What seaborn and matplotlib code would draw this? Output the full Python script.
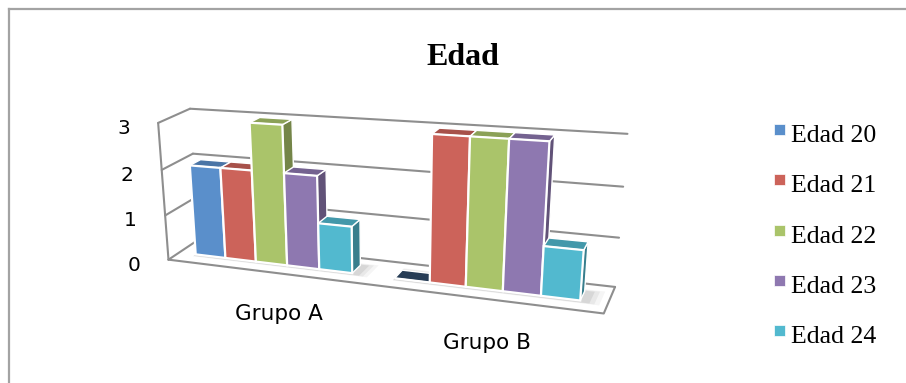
import numpy as np
import pandas as pd
import seaborn as sns
import matplotlib
matplotlib.use("Agg")
import matplotlib.pyplot as plt
from matplotlib import transforms as mtransforms
from matplotlib.patches import Polygon, Rectangle
from matplotlib.lines import Line2D

# ---- data -------------------------------------------------------------
grupos = ["Grupo A", "Grupo B"]
edades = ["Edad 20", "Edad 21", "Edad 22", "Edad 23", "Edad 24"]
grupo_a = [2, 2, 3, 2, 1]
grupo_b = [0, 3, 3, 3, 1]
y_ticks = [0, 1, 2, 3]
colores = ["#5A8FCB", "#CC635A", "#AAC46A", "#8E78B0", "#52B9CF"]

# ---- 3-D view ---------------------------------------------------------
# Perspective camera: (category x, value, depth, 1) -> (px, py from top)
CAM = np.array([
    [173.328, -5.97234, 14.2474, 271.409],
    [1.98772, -48.5026, -2.94631, 263.469],
    [-0.0814209, -0.0155137, 0.0176301, 1.0],
])
PROF = 1.0                     # bar depth
X_IZQ, X_DER = -0.49, 1.51     # left / right wall positions
Z_FRENTE, Z_FONDO = -1.0, 1.85  # floor front edge / back wall

W_PX, H_PX = 906, 383
fig = plt.figure(figsize=(W_PX / 100, H_PX / 100), dpi=100)
fig.patch.set_facecolor("white")
PIX = mtransforms.IdentityTransform()


class Vista(mtransforms.Transform):
    """Projects a plane of the 3-D box onto the figure in pixels.

    plano "xv": front-facing plane at depth `fijo`
    plano "xz": horizontal plane at value `fijo`
    plano "zv": side plane at category position `fijo`
    """
    input_dims = output_dims = 2
    is_separable = False
    has_inverse = False

    def __init__(self, plano, fijo):
        super().__init__()
        self.plano = plano
        self.fijo = fijo

    def transform_non_affine(self, values):
        v = np.asarray(values, dtype=float).reshape(-1, 2)
        a, b = v[:, 0], v[:, 1]
        c = np.full_like(a, self.fijo)
        if self.plano == "xv":
            X, Y, Z = a, b, c
        elif self.plano == "xz":
            X, Y, Z = a, c, b
        else:
            X, Y, Z = c, b, a
        h = np.column_stack([X, Y, Z, np.ones_like(X)]) @ CAM.T
        return np.column_stack([h[:, 0] / h[:, 2], H_PX - h[:, 1] / h[:, 2]])


df = pd.DataFrame({
    "grupo": np.repeat(grupos, len(edades)),
    "edad": edades * len(grupos),
    "valor": grupo_a + grupo_b,
})

ax = fig.add_axes([0, 0, 1, 1])
sns.barplot(data=df, x="grupo", y="valor", hue="edad", palette=colores,
            saturation=1, width=0.8, errorbar=None, legend=False, ax=ax)
ax.set_axis_off()

# ---- walls and floor --------------------------------------------------
gris = "#8E8E8E"
kw = dict(color=gris, lw=1.5, zorder=2, clip_on=False, solid_capstyle="round")
for v in y_ticks:
    ax.add_line(Line2D([X_IZQ, X_DER], [v, v], transform=Vista("xv", Z_FONDO), **kw))
    ax.add_line(Line2D([Z_FRENTE, Z_FONDO], [v, v], transform=Vista("zv", X_IZQ), **kw))
ax.add_line(Line2D([Z_FRENTE, Z_FRENTE], [0, max(y_ticks)],
                   transform=Vista("zv", X_IZQ), **kw))
ax.add_line(Line2D([X_IZQ, X_DER, X_DER], [Z_FRENTE, Z_FRENTE, Z_FONDO],
                   transform=Vista("xz", 0), **kw))

# ---- bars: front from seaborn, plus top and side faces ------------------
barras = sorted(ax.patches, key=lambda p: p.get_x())

# soft floor shadow under each cluster
for xc in range(len(grupos)):
    for k, a in enumerate([0.04, 0.05, 0.07]):
        e = 0.04 * (3 - k)
        sombra = Polygon([(xc - 0.4, -0.15 - e), (xc + 0.42 + e * 0.5, -0.15 - e),
                          (xc + 0.42 + e * 0.5, PROF + e * 2),
                          (xc - 0.4, PROF + e * 2)],
                         closed=True, transform=Vista("xz", 0), fc="black",
                         ec="none", alpha=a, zorder=3, clip_on=False)
        ax.add_patch(sombra)

for i, p in enumerate(barras):
    x0, w, hgt = p.get_x(), p.get_width(), p.get_height()
    x1 = x0 + w
    base = np.array(p.get_facecolor()[:3])
    z = 10 + 3 * i
    lado = Polygon([(0, 0), (PROF, 0), (PROF, hgt), (0, hgt)], closed=True,
                   transform=Vista("zv", x1), fc=base * 0.68, ec="white",
                   lw=1.0, zorder=z, clip_on=False)
    tapa = Polygon([(x0, 0), (x1, 0), (x1, PROF), (x0, PROF)], closed=True,
                   transform=Vista("xz", hgt),
                   fc=base * (0.82 if hgt > 0 else 0.42), ec="white",
                   lw=1.0, zorder=z + 1, clip_on=False)
    ax.add_patch(lado)
    ax.add_patch(tapa)
    p.set_transform(Vista("xv", 0))
    p.set_zorder(z + 2)
    p.set_edgecolor("white")
    p.set_linewidth(1.6)
    p.set_clip_on(False)

# ---- value axis labels on the left wall -------------------------------
for v in y_ticks:
    t = mtransforms.offset_copy(Vista("xv", Z_FRENTE), fig=fig, x=-28, y=-11, units="dots")
    ax.text(X_IZQ, v, str(v), transform=t, ha="right", va="baseline",
            fontsize=14.5, family="DejaVu Sans", color="black", clip_on=False)

# ---- category labels under the floor ----------------------------------
for xc, nombre in enumerate(grupos):
    t = mtransforms.offset_copy(Vista("xv", 0), fig=fig, x=5, y=-4, units="dots")
    ax.text(xc, -1.2, nombre, transform=t, ha="center", va="baseline",
            fontsize=15.5, family="DejaVu Sans", color="black", clip_on=False)

# ---- title ------------------------------------------------------------
fig.text(462.5, H_PX - 65, "Edad", transform=PIX, ha="center", va="baseline",
         fontsize=23, fontweight="bold", family="Liberation Serif")

# ---- legend -----------------------------------------------------------
for i, (nombre, c) in enumerate(zip(edades, colores)):
    y_base = H_PX - 142 - 50.3 * i
    fig.add_artist(Rectangle((774, y_base + 7), 11, 11, transform=PIX,
                             fc=c, ec="white", lw=0.5))
    fig.text(791, y_base, nombre, transform=PIX, ha="left", va="baseline",
             fontsize=18.5, family="Liberation Serif")

# ---- chart frame --------------------------------------------------------
marco = dict(transform=PIX, color="#A3A3A3", lw=1.6)
fig.add_artist(Line2D([8.5, 8.5], [0, H_PX - 8.5], **marco))
fig.add_artist(Line2D([8.5, W_PX], [H_PX - 8.5, H_PX - 8.5], **marco))

fig.savefig("out.png", dpi=100)
